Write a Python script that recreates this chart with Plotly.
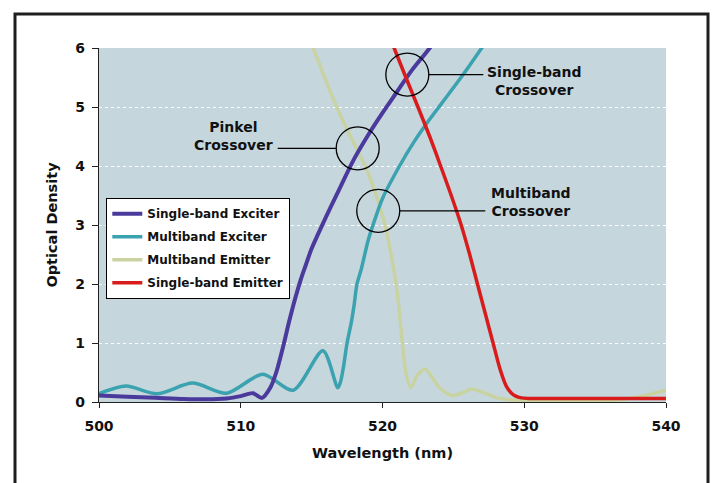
import plotly.graph_objects as go

# ---------------- data ----------------
se_x = [500, 502, 504, 506, 507.5, 509, 510, 510.85, 511.5, 512.1, 512.5, 513.0, 513.4, 513.8,
        514.2, 514.6, 515.0, 516.0, 517.0, 518.0, 519.0, 520.0, 521.0, 522.0, 523.0, 524.0]
se_y = [0.11, 0.09, 0.07, 0.05, 0.045, 0.06, 0.1, 0.15, 0.07, 0.25, 0.5, 0.95, 1.35, 1.72,
        2.05, 2.33, 2.6, 3.13, 3.63, 4.12, 4.53, 4.9, 5.25, 5.6, 5.9, 6.2]

me_x = [500, 501.9, 504.1, 506.6, 509.0, 511.55, 513.7, 515.8, 516.85, 517.05, 517.25, 517.5,
        517.8, 518.0, 518.2, 518.5, 519.0, 519.5, 520.0, 521.2, 522.2, 523.2, 524.2, 525.6, 527.0, 527.5]
me_y = [0.14, 0.27, 0.14, 0.32, 0.15, 0.47, 0.2, 0.87, 0.24, 0.35, 0.6, 1.0,
        1.35, 1.65, 2.0, 2.25, 2.75, 3.12, 3.45, 4.0, 4.4, 4.75, 5.07, 5.52, 6.0, 6.17]

mm_x = [514.6, 515.12, 516.0, 516.77, 517.8, 518.77, 519.5, 520.18, 520.6, 520.96, 521.2, 521.4,
        521.65, 522.0, 522.45, 523.0, 524.0, 524.9, 525.6, 526.3, 527.2, 528.07, 529.0, 531.0,
        534.0, 536.5, 537.9, 539.0, 540.0]
mm_y = [6.4, 6.0, 5.45, 5.0, 4.47, 4.0, 3.55, 3.0, 2.5, 2.0, 1.5, 1.0,
        0.5, 0.24, 0.45, 0.56, 0.25, 0.11, 0.15, 0.22, 0.15, 0.07, 0.04, 0.02,
        0.02, 0.03, 0.08, 0.14, 0.2]

sm_x = [520.3, 520.82, 521.65, 522.5, 523.33, 524.1, 524.85, 525.55, 526.15, 526.7, 527.25, 527.8,
        528.3, 528.75, 529.1, 529.4, 529.8, 530.3, 532, 535, 538, 540]
sm_y = [6.3, 6.0, 5.5, 5.0, 4.5, 4.0, 3.5, 3.0, 2.5, 2.0, 1.5, 1.0,
        0.55, 0.26, 0.15, 0.1, 0.07, 0.06, 0.06, 0.06, 0.06, 0.06]

series_names = ["Single-band Exciter", "Multiband Exciter", "Multiband Emitter", "Single-band Emitter"]
x_ticks = [500, 510, 520, 530, 540]
y_ticks = [0, 1, 2, 3, 4, 5, 6]

# crossover markers (wavelength, OD)
cross_pts = {"Pinkel": (518.25, 4.3), "Single": (521.75, 5.55), "Multi": (519.7, 3.24)}

# ---------------- layout geometry ----------------
W, H = 712, 483
ML, MR, MT, MB = 99, 46, 48, 81
PW, PH = W - ML - MR, H - MT - MB
FONT = "DejaVu Sans"


def px_x(px):
    return 500 + (px - ML) / PW * 40


def px_y(py):
    return (H - MB - py) / PH * 6


def paper_x(px):
    return (px - ML) / PW


def paper_y(py):
    return (H - MB - py) / PH


colors = {"se": "#4a3a9c", "me": "#3ba2b0", "mm": "#c9d3a2", "sm": "#d81c1c"}

fig = go.Figure()
traces = [
    (mm_x, mm_y, series_names[2], colors["mm"], 3.5, 3, 0.8),
    (me_x, me_y, series_names[1], colors["me"], 3.5, 2, 0.8),
    (se_x, se_y, series_names[0], colors["se"], 4, 1, 0.8),
    (sm_x, sm_y, series_names[3], colors["sm"], 3.5, 4, 0.6),
]
for xs, ys, name, col, wdt, rank, sm in traces:
    fig.add_trace(go.Scatter(
        x=xs, y=ys, mode="lines", name=name, legendrank=rank, legendgroup=name,
        line=dict(color=col, width=wdt, shape="spline", smoothing=sm),
        hoverinfo="skip"))

shapes = []
# outer frame
shapes.append(dict(type="rect", xref="paper", yref="paper",
                   x0=paper_x(15), x1=paper_x(708), y0=paper_y(520), y1=paper_y(14),
                   line=dict(color="#1e1e1e", width=3), fillcolor="rgba(0,0,0,0)", layer="above"))
R = 21.5
for key, (cx, cy) in cross_pts.items():
    shapes.append(dict(type="circle", xref="x", yref="y", xsizemode="pixel", ysizemode="pixel",
                       xanchor=cx, yanchor=cy, x0=-R, x1=R, y0=-R, y1=R,
                       line=dict(color="black", width=1.3), layer="above"))

# connector lines
pc = cross_pts["Pinkel"]
shapes.append(dict(type="line", xref="x", yref="y", xsizemode="pixel", ysizemode="pixel",
                   xanchor=pc[0], yanchor=pc[1], x0=-80, x1=-R, y0=0, y1=0,
                   line=dict(color="black", width=1.3)))
sc = cross_pts["Single"]
shapes.append(dict(type="line", xref="x", yref="y", xsizemode="pixel", ysizemode="pixel",
                   xanchor=sc[0], yanchor=sc[1], x0=R, x1=76, y0=0, y1=0,
                   line=dict(color="black", width=1.3)))
mc = cross_pts["Multi"]
shapes.append(dict(type="line", xref="x", yref="y", xsizemode="pixel", ysizemode="pixel",
                   xanchor=mc[0], yanchor=mc[1], x0=R, x1=107, y0=0, y1=0,
                   line=dict(color="black", width=1.3)))

ann_font = dict(family=FONT, size=14, color="#111111", weight="bold")
annotations = [
    dict(x=px_x(233), y=px_y(136), xref="x", yref="y", text="Pinkel<br>Crossover",
         showarrow=False, align="center", font=ann_font),
    dict(x=px_x(534), y=px_y(81), xref="x", yref="y", text="Single-band<br>Crossover",
         showarrow=False, align="center", font=ann_font),
    dict(x=px_x(531), y=px_y(202), xref="x", yref="y", text="Multiband<br>Crossover",
         showarrow=False, align="center", font=ann_font),
]

fig.update_layout(
    width=W, height=H, autosize=False,
    margin=dict(l=ML, r=MR, t=MT, b=MB),
    paper_bgcolor="white", plot_bgcolor="#c6d6dd",
    font=dict(family=FONT, color="#111111"),
    showlegend=True,
    legend=dict(x=paper_x(106), y=paper_y(198), xanchor="left", yanchor="top",
                bgcolor="white", bordercolor="black", borderwidth=1.3,
                font=dict(family=FONT, size=12, color="#111111", weight="bold"),
                tracegroupgap=4, traceorder="grouped"),
    shapes=shapes, annotations=annotations,
    xaxis=dict(range=[500, 540], tickvals=x_ticks, ticktext=[str(v) for v in x_ticks],
               showgrid=False, zeroline=False, showline=True, linecolor="#222222", linewidth=1.2,
               ticks="outside", ticklen=5, tickcolor="#222222", ticklabelstandoff=6,
               tickfont=dict(family=FONT, size=14, color="#111111", weight="bold"),
               title=dict(text="Wavelength (nm)", standoff=14,
                          font=dict(family=FONT, size=14.5, color="#111111", weight="bold"))),
    yaxis=dict(range=[0, 6], tickvals=y_ticks, ticktext=[str(v) for v in y_ticks],
               showgrid=True, gridcolor="white", gridwidth=1, griddash="dot",
               zeroline=False, showline=True, linecolor="#222222", linewidth=1.2,
               ticks="outside", ticklen=6, tickcolor="#222222", ticklabelstandoff=4,
               tickfont=dict(family=FONT, size=14, color="#111111", weight="bold"),
               title=dict(text="Optical Density", standoff=14,
                          font=dict(family=FONT, size=14.5, color="#111111", weight="bold"))),
)

fig.write_html("out.html", config={"displayModeBar": False},
               post_script="document.body.style.margin='0px';")
